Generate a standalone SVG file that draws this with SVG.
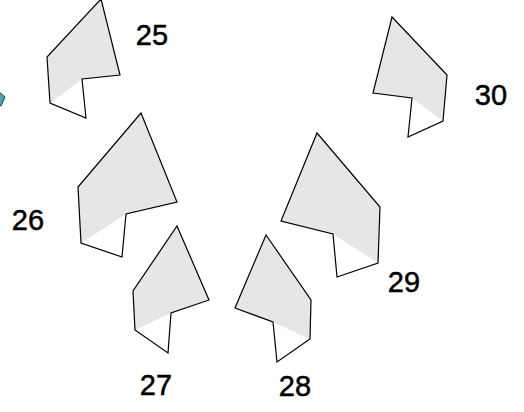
<svg xmlns="http://www.w3.org/2000/svg" width="524" height="412" viewBox="0 0 524 412">
<style>
.g{fill:#e6e5e8;stroke:none}
.o{fill:none;stroke:#000;stroke-width:1.2;stroke-linejoin:miter}
.t{font-family:"Liberation Sans",Arial,sans-serif;font-size:29px;fill:#000;stroke:#000;stroke-width:0.5;text-anchor:middle}
</style>
<rect width="524" height="412" fill="#fff"/>
<g id="teal">
<polygon points="-2,91 5,97 1,106 -2,105" fill="#4fa3b4" stroke="#1d3a44" stroke-width="1"/>
</g>
<g id="n25">
<polygon class="g" points="101,-1 120,75 82,79 50,103 47,57"/>
<polygon class="o" points="101,-1 120,75 82,79 86,118 50,103 47,57"/>
<text class="t" x="152" y="45">25</text>
</g>
<g id="n26">
<polygon class="g" points="141,113 177,202 126,214 81,243 78,187"/>
<polygon class="o" points="141,113 177,202 126,214 122,257 81,243 78,187"/>
<text class="t" x="28" y="230">26</text>
</g>
<g id="n27">
<polygon class="g" points="177,226 209,300 171,313 135,330 133,291"/>
<polygon class="o" points="177,226 209,300 171,313 168,353 135,330 133,291"/>
<text class="t" x="156" y="395">27</text>
</g>
<g id="n28">
<polygon class="g" points="266,235 311,300 310,339 273,322 235,308"/>
<polygon class="o" points="266,235 311,300 310,339 277,362 273,322 235,308"/>
<text class="t" x="295" y="396">28</text>
</g>
<g id="n29">
<polygon class="g" points="317,133 380,207 378,263 333,234 281,221"/>
<polygon class="o" points="317,133 380,207 378,263 337,277 333,234 281,221"/>
<text class="t" x="404" y="292">29</text>
</g>
<g id="n30">
<polygon class="g" points="392,17 447,75 443,121 412,98 373,93"/>
<polygon class="o" points="392,17 447,75 443,121 408,137 412,98 373,93"/>
<text class="t" x="491" y="105">30</text>
</g>
<g id="connectors"></g>
</svg>
